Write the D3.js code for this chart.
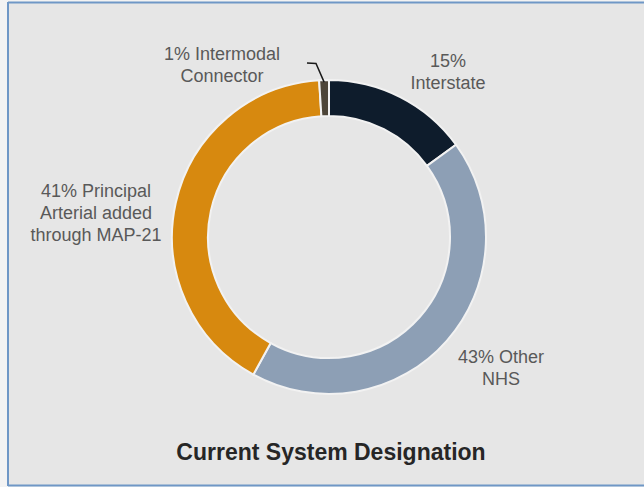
<!DOCTYPE html>
<html>
<head>
<meta charset="utf-8">
<script src="https://cdn.jsdelivr.net/npm/d3@7"></script>
<style>
  html, body { margin: 0; padding: 0; background: #f3f3f3; }
  svg { display: block; }
</style>
</head>
<body>
<svg id="chart" width="644" height="487"></svg>
<script>
// Data
const categories = ["Interstate", "Other NHS", "Principal Arterial added through MAP-21", "Intermodal Connector"];
const values = [15, 43, 41, 1];
const labelLines = [
  ["15%", "Interstate"],
  ["43% Other", "NHS"],
  ["41% Principal", "Arterial added", "through MAP-21"],
  ["1% Intermodal", "Connector"]
];
const colors = ["#0e1c2c", "#8d9fb5", "#d7890f", "#4d4538"];
const title = "Current System Designation";

const svg = d3.select("#chart");
const W = 644, H = 487;

// panel background + border
svg.append("rect").attr("x", 8).attr("y", 2).attr("width", W - 8).attr("height", H - 4).attr("fill", "#e6e6e6");
svg.append("line").attr("x1", 8).attr("x2", W).attr("y1", 2.5).attr("y2", 2.5).attr("stroke", "#6f97c6").attr("stroke-width", 2);
svg.append("line").attr("x1", 8).attr("x2", W).attr("y1", 485.5).attr("y2", 485.5).attr("stroke", "#6f97c6").attr("stroke-width", 2);
svg.append("line").attr("x1", 8).attr("x2", 8).attr("y1", 2).attr("y2", 486).attr("stroke", "#6f97c6").attr("stroke-width", 2);

const cx = 329, cy = 237, rOuter = 157, rInner = 121;
const data = categories.map((c, i) => ({ name: c, value: values[i], color: colors[i], lines: labelLines[i] }));

const pie = d3.pie().value(d => d.value).sort(null).startAngle(0).endAngle(2 * Math.PI);
const arc = d3.arc().innerRadius(rInner).outerRadius(rOuter);
const arcs = pie(data);

const g = svg.append("g").attr("transform", `translate(${cx},${cy})`);
g.selectAll("path.slice").data(arcs).enter().append("path")
  .attr("class", "slice")
  .attr("d", arc)
  .attr("fill", d => d.data.color)
  .attr("stroke", "#f2f2f2")
  .attr("stroke-width", 2);

// labels (positions relative to chart)
const labelPos = [
  { x: 448, y: 67 },
  { x: 501, y: 363 },
  { x: 96, y: 197 },
  { x: 222, y: 60 }
];
const lineH = 22;
data.forEach((d, i) => {
  const t = svg.append("text")
    .attr("x", labelPos[i].x).attr("y", labelPos[i].y)
    .attr("text-anchor", "middle")
    .attr("font-family", "Liberation Sans, Arial, sans-serif")
    .attr("font-size", 18)
    .attr("fill", "#595959");
  d.lines.forEach((ln, j) => {
    t.append("tspan").attr("x", labelPos[i].x).attr("dy", j === 0 ? 0 : lineH).text(ln);
  });
});

// leader line for the tiny slice
const tiny = arcs[3];
const midA = (tiny.startAngle + tiny.endAngle) / 2;
const endPt = [cx + Math.sin(midA) * (rOuter - 2), cy - Math.cos(midA) * (rOuter - 2)];
svg.append("polyline")
  .attr("points", `307,63 316,63.5 ${endPt[0]},${endPt[1]}`)
  .attr("fill", "none").attr("stroke", "#1a1a1a").attr("stroke-width", 1.5);

// title
svg.append("text")
  .attr("x", 331).attr("y", 460)
  .attr("text-anchor", "middle")
  .attr("font-family", "Liberation Sans, Arial, sans-serif")
  .attr("font-size", 23).attr("font-weight", "bold")
  .attr("fill", "#262626")
  .text(title);
</script>
</body>
</html>
